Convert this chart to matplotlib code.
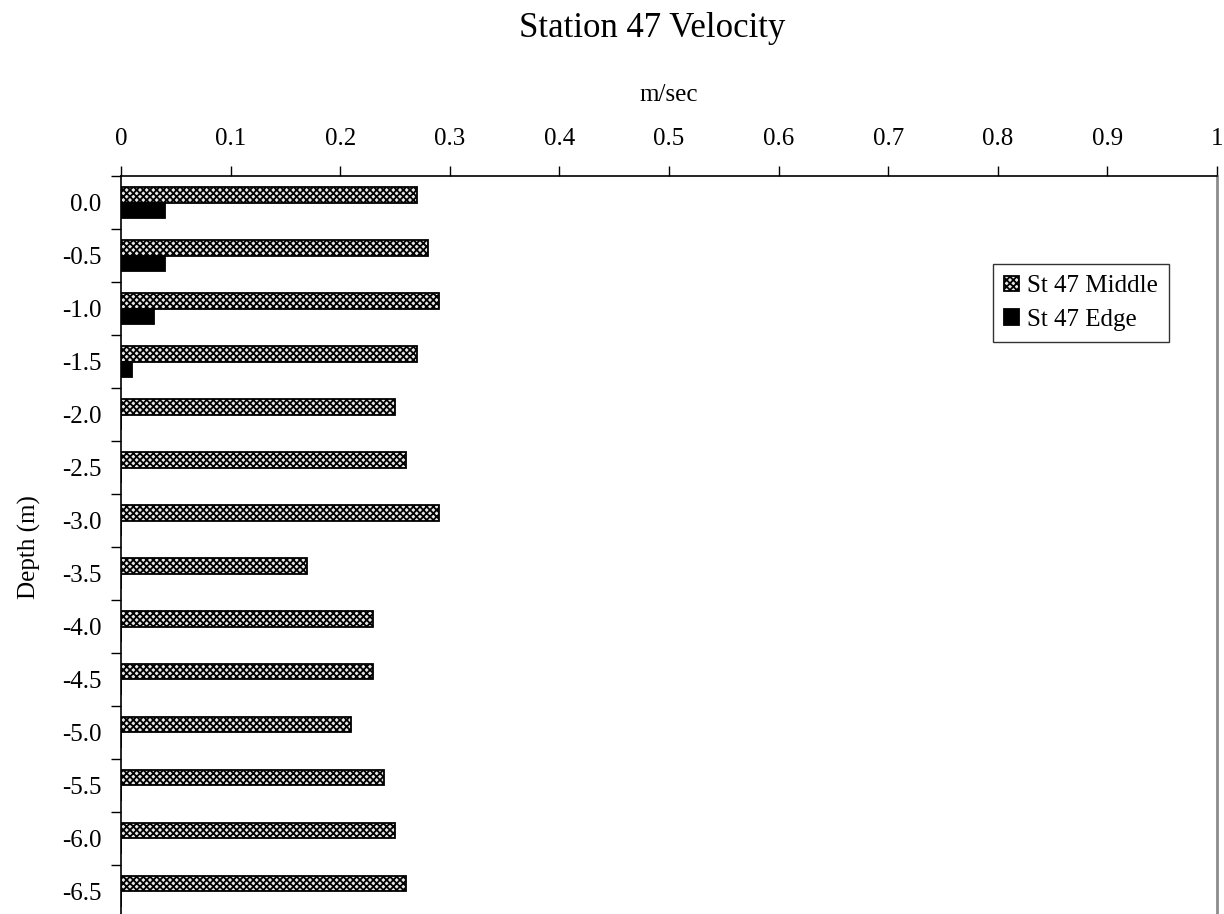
import numpy as np
import matplotlib
matplotlib.use('Agg')
import matplotlib.pyplot as plt

depths = ['0.0', '-0.5', '-1.0', '-1.5', '-2.0', '-2.5', '-3.0', '-3.5',
          '-4.0', '-4.5', '-5.0', '-5.5', '-6.0', '-6.5']
middle = [0.27, 0.28, 0.29, 0.27, 0.25, 0.26, 0.29, 0.17,
          0.23, 0.23, 0.21, 0.24, 0.25, 0.26]
edge = [0.04, 0.04, 0.03, 0.01, 0, 0, 0, 0,
        0, 0, 0, 0, 0, 0]
x_ticks = [0, 0.1, 0.2, 0.3, 0.4, 0.5, 0.6, 0.7, 0.8, 0.9, 1]

plt.rcParams['font.family'] = ['Liberation Serif', 'DejaVu Serif']
plt.rcParams['hatch.linewidth'] = 1.3

fig = plt.figure(figsize=(12.24, 9.14), dpi=100)
ax = fig.add_axes([121/1224, 1 - 918/914, (1217 - 121)/1224, (918 - 176)/914])

y = np.arange(len(depths))
h = 0.295
ax.barh(y - h/2, middle, height=h, facecolor='#e8e8e8', edgecolor='black',
        hatch='xxxxx', linewidth=1.3, label='St 47 Middle')
ax.barh(y + h/2, edge, height=h, facecolor='black', edgecolor='black',
        linewidth=1.3, label='St 47 Edge')

ax.set_xlim(0, 1)
ax.set_ylim(len(depths) - 0.5, -0.5)

ax.xaxis.tick_top()
ax.xaxis.set_label_position('top')
ax.set_xticks(x_ticks)
ax.set_xticklabels([f'{t:g}' for t in x_ticks])
ax.tick_params(axis='x', direction='out', length=7, width=1, labelsize=18, pad=12)
ax.set_xlabel('m/sec', fontsize=18, labelpad=19)

# ticks between categories, labels at centres
ax.set_yticks(np.arange(len(depths) + 1) - 0.5)
ax.set_yticklabels([])
ax.set_yticks(y, minor=True)
ax.set_yticklabels(depths, minor=True)
ax.tick_params(axis='y', which='major', direction='out', length=7, width=1)
ax.tick_params(axis='y', which='minor', length=0, labelsize=18, pad=14)
ax.set_ylabel('Depth (m)', fontsize=18, labelpad=15)

ax.spines['bottom'].set_visible(False)
ax.spines['right'].set_color('#8c8c8c')
ax.spines['right'].set_linewidth(2)
for s in ['top', 'left']:
    ax.spines[s].set_linewidth(1.2)

fig.text(652/1224, 1 - 37/914, 'Station 47 Velocity', fontsize=25,
         ha='center', va='baseline')

leg = ax.legend(loc='upper left', bbox_to_anchor=(993/1224, 1 - 264/914),
                bbox_transform=fig.transFigure, fontsize=18, frameon=True,
                fancybox=False, edgecolor='black', handlelength=0.6,
                handleheight=0.6, handletextpad=0.3, borderpad=0.45,
                labelspacing=0.45, borderaxespad=0)
leg.get_frame().set_linewidth(1)

fig.savefig('out.png', dpi=100)
